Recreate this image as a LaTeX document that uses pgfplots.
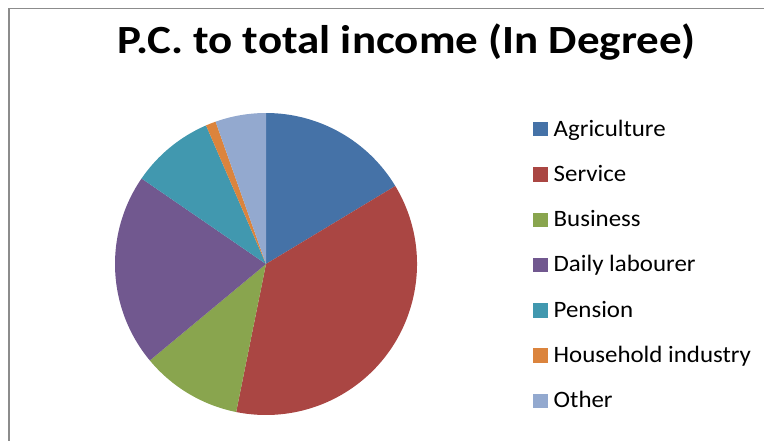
\documentclass[border=0pt]{standalone}
\usepackage{pgfplots}
\pgfplotsset{compat=1.18}
\usepackage{pgfplotstable}
\usepackage{fontspec}
\setmainfont{Carlito}
\newfontfamily\titfont[FakeStretch=1.125]{Carlito}
\newfontfamily\legfont[FakeStretch=1.06]{Carlito}
\definecolor{c0}{HTML}{4572A7}
\definecolor{c1}{HTML}{AA4643}
\definecolor{c2}{HTML}{89A54E}
\definecolor{c3}{HTML}{71588F}
\definecolor{c4}{HTML}{4198AF}
\definecolor{c5}{HTML}{DB843D}
\definecolor{c6}{HTML}{93A9CF}
\definecolor{frame}{HTML}{8C8C8C}

\pgfplotstableread[col sep=comma]{
label,deg
Agriculture,58.9
Service,132.5
Business,38.9
Daily labourer,74.2
Pension,32.1
Household industry,3.9
Other,19.5
}\piedata

\begin{document}
\begin{tikzpicture}
\useasboundingbox (0pt,0pt) rectangle (764pt,-441pt);
\draw[frame, line width=1.8pt, line cap=rect] (9pt,-441pt) -- (9pt,-8.5pt) -- (764pt,-8.5pt);
\node[anchor=base, inner sep=0pt, font=\titfont\bfseries\fontsize{40}{46}\selectfont] at (406.5pt,-54pt) {P.C. to total income (In Degree)};

% cumulative angles (clockwise from 90 degrees)
\xdef\cur{90}
\pgfplotsforeachungrouped \i in {0,...,6}{%
  \pgfplotstablegetelem{\i}{deg}\of\piedata
  \pgfmathsetmacro\nxt{\cur-\pgfplotsretval}%
  \expandafter\xdef\csname sa\i\endcsname{\cur}%
  \expandafter\xdef\csname ea\i\endcsname{\nxt}%
  \xdef\cur{\nxt}%
}

\begin{axis}[
  at={(266pt,-264pt)}, anchor=origin,
  x=151pt, y=151pt,
  xmin=-1, xmax=1, ymin=-1, ymax=1,
  hide axis, clip=false,
  legend style={at={(1.384,0.492)}, anchor=west, draw=none, fill=none,
    inner sep=0pt, outer sep=0pt, font=\legfont\fontsize{23.5}{28}\selectfont,
    row sep=22.3pt, column sep=0pt,
    nodes={text height=17pt, text depth=6pt, inner xsep=0pt, inner ysep=0pt},
    cells={anchor=west}},
  legend cell align=left,
  legend image code/.code={\fill[#1] (0pt,-5pt) rectangle (14.4pt,8.4pt); \path[draw=none,fill=none] (20.5pt,0pt) circle[radius=0pt];},
]
\pgfplotsinvokeforeach{0,...,6}{
  \fill[c#1] (axis cs:0,0) -- (axis cs:{cos(\csname sa#1\endcsname)},{sin(\csname sa#1\endcsname)})
     arc[start angle=\csname sa#1\endcsname, end angle=\csname ea#1\endcsname, radius=151pt] -- cycle;
}
\addlegendimage{c0}\addlegendentry{Agriculture}
\addlegendimage{c1}\addlegendentry{Service}
\addlegendimage{c2}\addlegendentry{Business}
\addlegendimage{c3}\addlegendentry{Daily labourer}
\addlegendimage{c4}\addlegendentry{Pension}
\addlegendimage{c5}\addlegendentry{Household industry}
\addlegendimage{c6}\addlegendentry{Other}
\end{axis}
\end{tikzpicture}
\end{document}
